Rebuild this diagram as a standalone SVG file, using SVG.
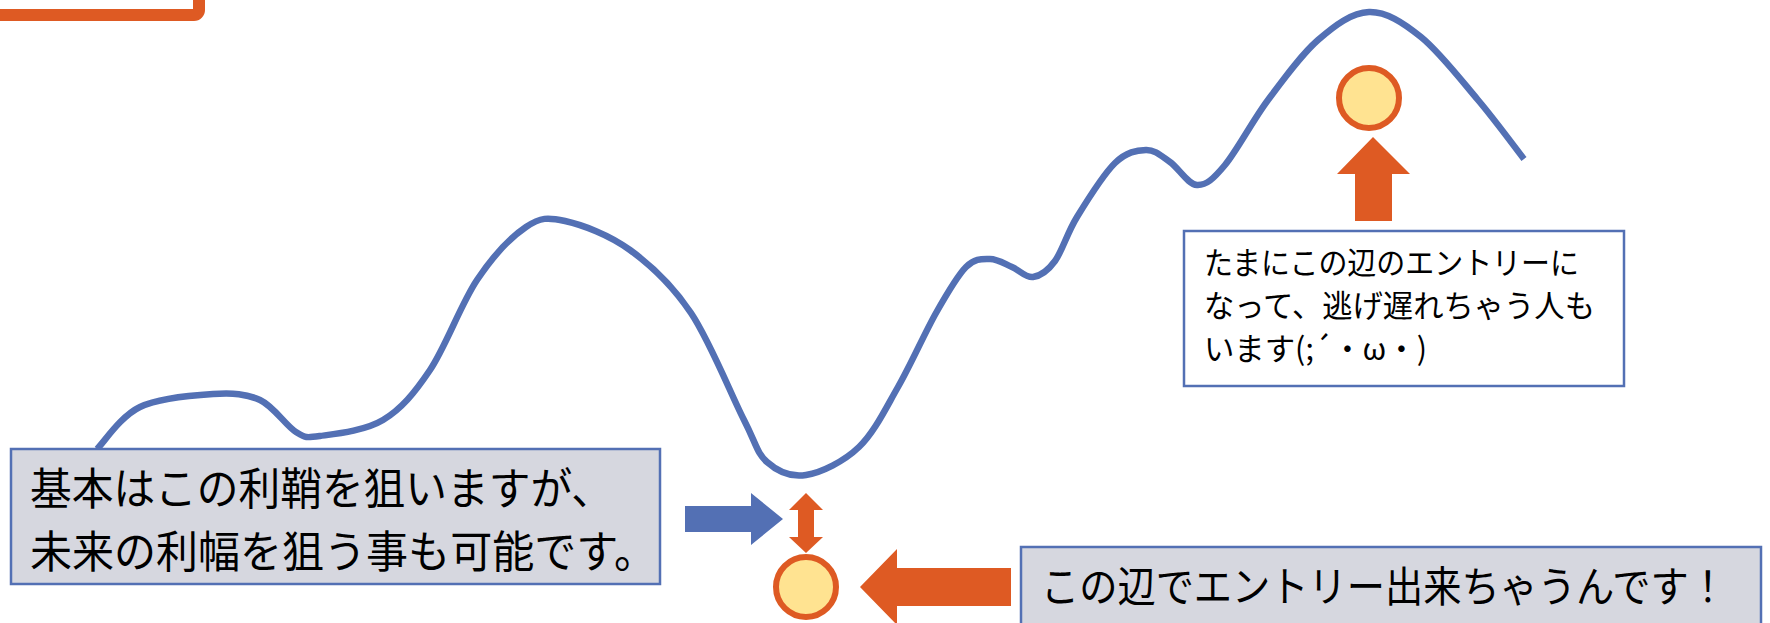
<svg xmlns="http://www.w3.org/2000/svg" width="1770" height="623" viewBox="0 0 1770 623">
<style>
.orange{fill:#DE5A23;}
.blue{fill:#5370B4;}
.coin{fill:#FFE391;stroke:#DE5A23;stroke-width:6;}
.gbox{fill:#D6D7DF;stroke:#5370B4;stroke-width:2.5;}
.wbox{fill:#FFFFFF;stroke:#5370B4;stroke-width:2.5;}
.t{font-family:"Noto Sans CJK JP","Noto Sans",sans-serif;fill:#000000;}
</style>
<rect width="1770" height="623" fill="#FFFFFF"/>
<g id="frame">
<rect x="-30" y="-40" width="229" height="55" rx="5" fill="none" stroke="#DE5A23" stroke-width="12"/>
</g>
<g id="chart">
<path fill="none" stroke="#5370B4" stroke-width="6.5" stroke-linecap="butt" d="M97,449 C104.2,442 120.7,416.2 140,407 C159.3,397.8 193,395.2 213,394 C233,392.8 246.2,393.7 260,400 C273.8,406.3 286,426 296,432 C306,438 305.5,438 320,436 C334.5,434 364.7,431 383,420 C401.3,409 414.3,393.3 430,370 C445.7,346.7 461,303.8 477,280 C493,256.2 511.3,236.8 526,227 C540.7,217.2 547.7,217.2 565,221 C582.3,224.8 609,234.7 630,250 C651,265.3 672,284.7 691,313 C710,341.3 731.3,395.2 744,420 C756.7,444.8 756.7,452.8 767,462 C777.3,471.2 790.7,477.5 806,475 C821.3,472.5 843.7,461.7 859,447 C874.3,432.3 885.2,409.3 898,387 C910.8,364.7 924.7,333 936,313 C947.3,293 957,276 966,267 C975,258 982.3,259 990,259 C997.7,259 1004.8,264 1012,267 C1019.2,270 1025.8,278 1033,277 C1040.2,276 1047.7,271 1055,261 C1062.3,251 1067,233.3 1077,217 C1087,200.7 1103.5,174.2 1115,163 C1126.5,151.8 1136.8,150.2 1146,150 C1155.2,149.8 1161.5,156.2 1170,162 C1178.5,167.8 1187.8,184.5 1197,185 C1206.2,185.5 1213.2,179.2 1225,165 C1236.8,150.8 1252.5,120.8 1268,100 C1283.5,79.2 1301.2,54.7 1318,40 C1334.8,25.3 1351.8,12.5 1369,12 C1386.2,11.5 1402.8,22.3 1421,37 C1439.2,51.7 1460.8,79.7 1478,100 C1495.2,120.3 1516.3,149.2 1524,159"/>
</g>
<g id="connectors">
<polygon class="blue" points="685,506 751,506 751,493 783,519 751,545 751,532 685,532"/>
<polygon class="orange" points="806,493 823,510 814,510 814,537 823,537 806,553 789,537 798,537 798,510 789,510"/>
<polygon class="orange" points="860,587 897,549 897,568 1011,568 1011,606 897,606 897,625"/>
<polygon class="orange" points="1373,137 1410,174 1392,174 1392,221 1355,221 1355,174 1337,174"/>
</g>
<g id="coin-bottom">
<circle class="coin" cx="806" cy="587" r="30"/>
</g>
<g id="coin-top">
<circle class="coin" cx="1369" cy="98" r="30"/>
</g>
<g id="note-left">
<rect class="gbox" x="11" y="449" width="649" height="135"/>
<text class="t" x="30" y="505" font-size="44" textLength="583" lengthAdjust="spacingAndGlyphs">基本はこの利鞘を狙いますが、</text>
<text class="t" x="30" y="568" font-size="44" textLength="626" lengthAdjust="spacingAndGlyphs">未来の利幅を狙う事も可能です。</text>
</g>
<g id="note-top">
<rect class="wbox" x="1184" y="231" width="440" height="155"/>
<text class="t" x="1204" y="274" font-size="31" textLength="375" lengthAdjust="spacingAndGlyphs">たまにこの辺のエントリーに</text>
<text class="t" x="1204" y="317" font-size="31" textLength="391" lengthAdjust="spacingAndGlyphs">なって、逃げ遅れちゃう人も</text>
<text class="t" x="1204" y="360" font-size="31" textLength="223" lengthAdjust="spacingAndGlyphs">います(;´・ω・)</text>
</g>
<g id="note-bottom">
<rect class="gbox" x="1021" y="547" width="740" height="100"/>
<text class="t" x="1041" y="602" font-size="42" textLength="686" lengthAdjust="spacingAndGlyphs">この辺でエントリー出来ちゃうんです！</text>
</g>
</svg>
